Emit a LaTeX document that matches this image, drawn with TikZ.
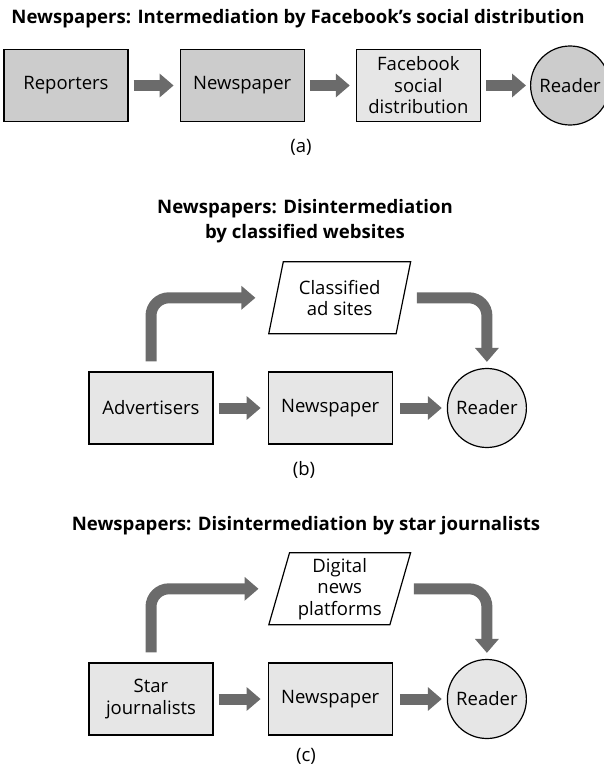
\documentclass[tikz,border=0pt]{standalone}
\usepackage{fontspec}
\setmainfont{Open Sans}
\usetikzlibrary{shapes.geometric,positioning,arrows.meta}

\definecolor{boxdark}{HTML}{CCCCCC}
\definecolor{boxlight}{HTML}{E6E6E6}
\definecolor{arrowgray}{HTML}{6B6B6B}

\begin{document}
\begin{tikzpicture}[x=1pt,y=-1pt,
	font=\fontsize{18.5}{21.5}\selectfont,
	box/.style={draw,line width=1.2pt,align=center,
		minimum width=124pt,minimum height=72pt,inner sep=2pt},
	reader/.style={draw,circle,line width=1.2pt,
		minimum size=79pt,inner sep=0pt},
	site/.style={draw,trapezium,trapezium stretches=true,
		trapezium left angle=74.5,trapezium right angle=105.5,
		line width=1.2pt,fill=white,align=center,
		minimum width=142pt,minimum height=72pt,inner sep=2pt},
	flow/.style={draw=arrowgray,line width=11pt,
		-{Triangle[length=14pt,width=23pt]}},
	heading/.style={font=\fontsize{18.6}{25}\selectfont\bfseries,align=center}]
		
		\useasboundingbox (0,0) rectangle (603,767);
		
		% (a) Facebook
		\node[heading] (titleA) at (298,19)
		{Newspapers: Intermediation by Facebook’s social distribution};
		
		\node[box,
		fill=boxdark] (reportersA) at (66,85.5) {Reporters};
		
		\node[box,
		fill=boxdark,
		right=51pt of reportersA] (paperA) {Newspaper};
		
		\node[box,
		fill=boxlight,
		right=51pt of paperA] (facebookA) {Facebook\\ social\\ distribution};
		
		\node[reader,
		fill=boxdark,
		right=49pt of facebookA] (readerA) {Reader};
		
		\node (tagA) at (301,147) {(a)};
		
		% (b) classified websites
		\node[heading] (titleB) at (305,221)
		{Newspapers: Disintermediation\\ by classified websites};
		
		\node[box,
		fill=boxlight] (advertisersB) at (151,408) {Advertisers};
		
		\node[box,
		fill=boxlight,
		right=54pt of advertisersB] (paperB) {Newspaper};
		
		\node[reader,
		fill=boxlight,
		right=54pt of paperB] (readerB) {Reader};
		
		\node[site,
		above=37pt of paperB,
		xshift=9.5pt] (adsB) {Classified\\ ad sites};
		
		\node (tagB) at (304,470) {(b)};
		
		% (c) star journalists
		\node[heading] (titleC) at (306,526)
		{Newspapers: Disintermediation by star journalists};
		
		\node[box,
		fill=boxlight] (starsC) at (151,699) {Star\\ journalists};
		
		\node[box,
		fill=boxlight,
		right=54pt of starsC] (paperC) {Newspaper};
		
		\node[reader,
		fill=boxlight,
		right=54pt of paperC] (readerC) {Reader};
		
		\node[site,
		above=37pt of paperC,
		xshift=9.5pt] (platformsC) {Digital\\ news\\ platforms};
		
		\node (tagC) at (306,756) {(c)};
		
		% Arrows
		\draw[flow,shorten <=5pt,shorten >=6pt] (reportersA) -- (paperA);
		\draw[flow,shorten <=5pt,shorten >=6pt] (paperA) -- (facebookA);
		\draw[flow,shorten <=5pt,shorten >=4pt] (facebookA) -- (readerA);
		
		\draw[flow,shorten <=5pt,shorten >=7pt] (advertisersB) -- (paperB);
		\draw[flow,shorten <=7pt,shorten >=5pt] (paperB) -- (readerB);
		\draw[flow,rounded corners=18pt]
		([yshift=10pt]advertisersB.north) |- ([xshift=-20pt]adsB.west);
		\draw[flow,rounded corners=18pt]
		([xshift=13pt]adsB.east) -| ([yshift=6pt]readerB.north);
		
		\draw[flow,shorten <=5pt,shorten >=7pt] (starsC) -- (paperC);
		\draw[flow,shorten <=7pt,shorten >=5pt] (paperC) -- (readerC);
		\draw[flow,rounded corners=18pt]
		([yshift=10pt]starsC.north) |- ([xshift=-20pt]platformsC.west);
		\draw[flow,rounded corners=18pt]
		([xshift=13pt]platformsC.east) -| ([yshift=6pt]readerC.north);
		
\end{tikzpicture}
\end{document}
